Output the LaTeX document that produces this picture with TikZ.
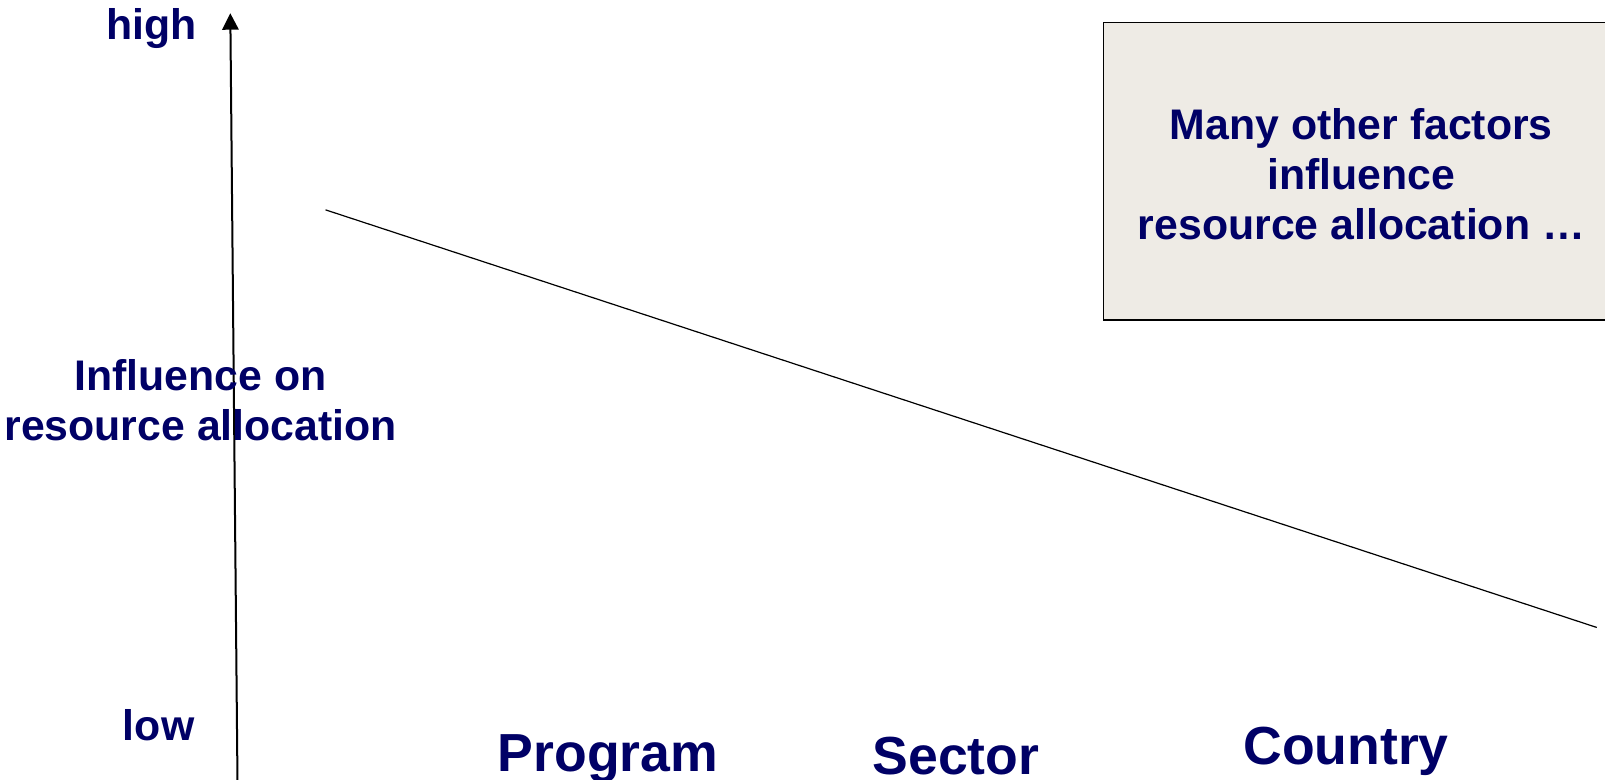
\documentclass[tikz,border=0pt]{standalone}
\usepackage{fontspec}
\setmainfont{Liberation Sans}
\usetikzlibrary{arrows.meta}
\definecolor{labelblue}{RGB}{0,0,102}
\definecolor{boxgray}{RGB}{238,235,229}

\begin{document}
\begin{tikzpicture}[x=0.5118pt, y=-0.5118pt,
            every node/.style={text=labelblue, font=\bfseries\fontsize{21.4}{25.1}\selectfont, align=center, inner sep=0pt},
            axislevel/.style={font=\bfseries\fontsize{26.8}{31}\selectfont, anchor=base},
            ]
            % axis
            \coordinate (axbot) at (232,762);
            \coordinate (axtop) at (225,13);
            \draw[line width=1pt, -{Triangle[width=8.2pt,length=8.2pt]}] (axbot) -- (axtop);

            \node (high) at (148,28) {high};
            \node (low) at (155,708) {low};
            \node (infl) at (196,391) {Influence on\\resource allocation};

            % trend line
            \coordinate (lstart) at (318,205);
            \coordinate (lend) at (1560,613);
            \draw[line width=0.6pt] (lstart) -- (lend);

            \node[axislevel] (program) at (594,754) {Program};
            \node[axislevel] (sector) at (934,757) {Sector};
            \node[axislevel] (country) at (1315,747) {Country};

            % box runs off the right edge
            \node[fill=boxgray, minimum width=250.8pt, minimum height=148.4pt, anchor=north west] (factors) at (1078,22) {};
            \draw[line width=0.8pt] (factors.north east) -- (factors.north west) -- (factors.south west) -- (factors.south east);
            \node (factorstext) at (1330,170) {Many other factors\\influence\\resource allocation …};

            \pgfresetboundingbox
            \useasboundingbox (0,0) rectangle (1568,762);
\end{tikzpicture}
\end{document}
